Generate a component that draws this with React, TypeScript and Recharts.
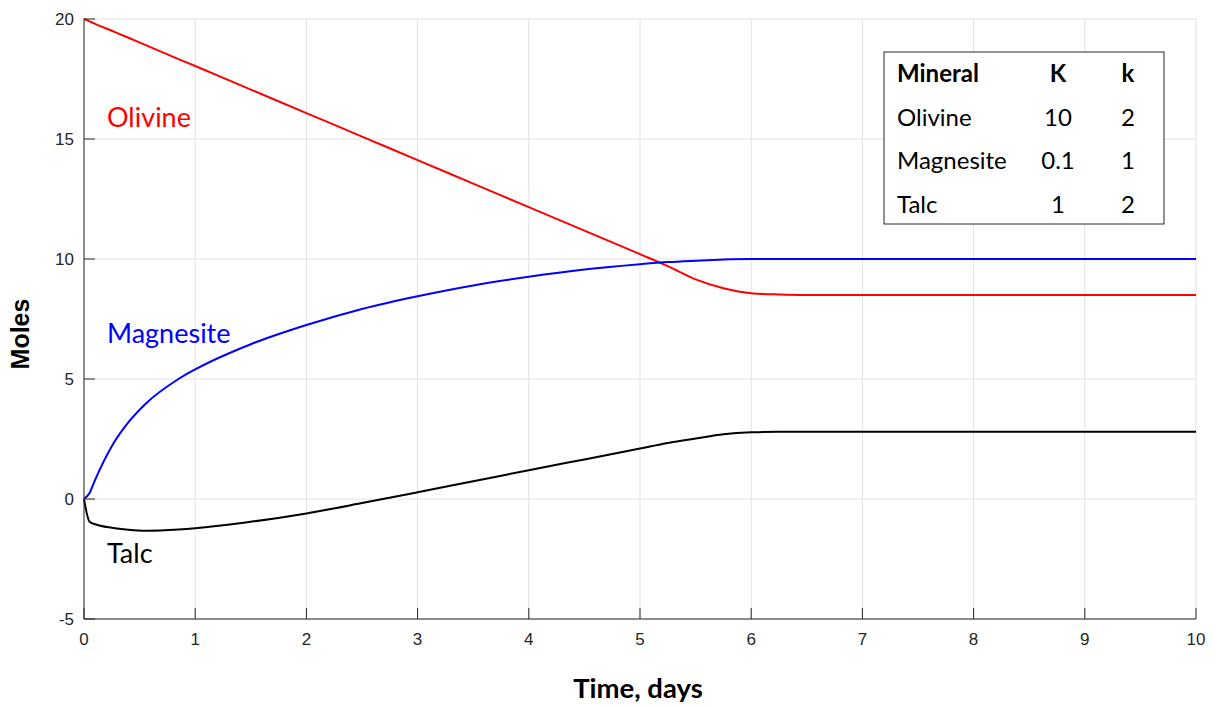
import { CartesianGrid, Line, LineChart, XAxis, YAxis } from "recharts";

const times = [
  0, 0.05, 0.1, 0.25, 0.4, 0.55, 0.85, 1, 1.5, 2, 2.5, 3, 3.5, 4, 4.5, 5,
  5.25, 5.5, 5.75, 6, 6.25, 6.5, 7, 8, 9, 10,
];
const olivine = [
  20, 19.9, 19.8, 19.51, 19.22, 18.92, 18.33, 18.04, 17.06, 16.08, 15.1,
  14.12, 13.14, 12.16, 11.18, 10.2, 9.7, 9.15, 8.78, 8.57, 8.52, 8.5, 8.5,
  8.5, 8.5, 8.5,
];
const magnesite = [
  0, 0.25, 0.8, 2.2, 3.2, 3.95, 5.0, 5.4, 6.45, 7.25, 7.92, 8.45, 8.9, 9.26,
  9.56, 9.78, 9.87, 9.93, 9.98, 10, 10, 10, 10, 10, 10, 10,
];
const talc = [
  0, -0.95, -1.05, -1.2, -1.28, -1.32, -1.27, -1.22, -0.95, -0.6, -0.17, 0.28,
  0.74, 1.2, 1.65, 2.1, 2.33, 2.52, 2.7, 2.78, 2.8, 2.8, 2.8, 2.8, 2.8, 2.8,
];

const xTicks = [0, 1, 2, 3, 4, 5, 6, 7, 8, 9, 10];
const yTicks = [-5, 0, 5, 10, 15, 20];

const tableHeader = ["Mineral", "K", "k"];
const tableRows = [
  ["Olivine", "10", "2"],
  ["Magnesite", "0.1", "1"],
  ["Talc", "1", "2"],
];

const data = times.map((t, i) => ({
  t,
  olivine: olivine[i],
  magnesite: magnesite[i],
  talc: talc[i],
}));

const AXIS = "#262626";
const TICK_FONT = "'Liberation Sans', Arial, sans-serif";
const LABEL_FONT = "Lato, 'Open Sans', sans-serif";

function BottomTick({ x, y, payload }: any) {
  return (
    <g>
      <line x1={x} y1={y} x2={x} y2={y - 11} stroke={AXIS} strokeWidth={1} />
      <text
        x={x}
        y={y + 26}
        textAnchor="middle"
        fontSize={17}
        fontFamily={TICK_FONT}
        fill={AXIS}
      >
        {payload.value}
      </text>
    </g>
  );
}

function TopTick({ x, y }: any) {
  return <line x1={x} y1={y} x2={x} y2={y + 11} stroke={AXIS} strokeWidth={1} />;
}

function LeftTick({ x, y, payload }: any) {
  return (
    <g>
      <line x1={x} y1={y} x2={x + 11} y2={y} stroke={AXIS} strokeWidth={1} />
      <text
        x={x - 10}
        y={y + 6}
        textAnchor="end"
        fontSize={17}
        fontFamily={TICK_FONT}
        fill={AXIS}
      >
        {payload.value}
      </text>
    </g>
  );
}

function RightTick({ x, y }: any) {
  return <line x1={x} y1={y} x2={x - 11} y2={y} stroke={AXIS} strokeWidth={1} />;
}

export default function App() {
  const colX = [897, 1058, 1128];
  const rowY = [82, 126, 169, 213];
  return (
    <div style={{ position: "absolute", left: 0, top: 0, width: 1215, height: 706, background: "#fff" }}>
      <LineChart
        width={1215}
        height={706}
        data={data}
        margin={{ top: 19, right: 19, left: 24, bottom: 57 }}
      >
        <CartesianGrid
          xAxisId="bottom"
          yAxisId="left"
          stroke="#e2e2e2"
          strokeWidth={1}
        />
        <XAxis
          xAxisId="bottom"
          dataKey="t"
          type="number"
          domain={[0, 10]}
          ticks={xTicks}
          tickSize={0}
          tickMargin={0}
          tickLine={false}
          axisLine={{ stroke: AXIS }}
          tick={<BottomTick />}
          height={30}
          interval={0}
        />
        <XAxis
          xAxisId="top"
          orientation="top"
          dataKey="t"
          type="number"
          domain={[0, 10]}
          ticks={xTicks}
          tickSize={0}
          tickMargin={0}
          tickLine={false}
          axisLine={{ stroke: AXIS }}
          tick={<TopTick />}
          height={0}
          interval={0}
        />
        <YAxis
          yAxisId="left"
          type="number"
          domain={[-5, 20]}
          ticks={yTicks}
          tickSize={0}
          tickMargin={0}
          tickLine={false}
          axisLine={{ stroke: AXIS }}
          tick={<LeftTick />}
          width={60}
          interval={0}
        />
        <YAxis
          yAxisId="right"
          orientation="right"
          type="number"
          domain={[-5, 20]}
          ticks={yTicks}
          tickSize={0}
          tickMargin={0}
          tickLine={false}
          axisLine={{ stroke: AXIS }}
          tick={<RightTick />}
          width={0}
          interval={0}
        />
        <Line
          xAxisId="bottom"
          yAxisId="left"
          dataKey="olivine"
          type="monotone"
          stroke="#ff0000"
          strokeWidth={2}
          dot={false}
          isAnimationActive={false}
        />
        <Line
          xAxisId="bottom"
          yAxisId="left"
          dataKey="magnesite"
          type="monotone"
          stroke="#0000ff"
          strokeWidth={2}
          dot={false}
          isAnimationActive={false}
        />
        <Line
          xAxisId="bottom"
          yAxisId="left"
          dataKey="talc"
          type="monotone"
          stroke="#000000"
          strokeWidth={2}
          dot={false}
          isAnimationActive={false}
        />
      </LineChart>
      <svg
        width={1215}
        height={706}
        style={{ position: "absolute", left: 0, top: 0, pointerEvents: "none" }}
      >
        <text x={107} y={127} fontSize={27} fontFamily={LABEL_FONT} fill="#ff0000">
          Olivine
        </text>
        <text x={107} y={343} fontSize={27} fontFamily={LABEL_FONT} fill="#0000ff">
          Magnesite
        </text>
        <text x={107} y={563} fontSize={27} fontFamily={LABEL_FONT} fill="#000">
          Talc
        </text>
        <text
          x={638}
          y={698}
          textAnchor="middle"
          fontSize={27.5}
          fontWeight="bold"
          fontFamily={LABEL_FONT}
          fill="#000"
        >
          Time, days
        </text>
        <text
          x={0}
          y={0}
          transform="translate(29,334) rotate(-90)"
          textAnchor="middle"
          fontSize={25}
          fontWeight="bold"
          fontFamily={TICK_FONT}
          fill="#000"
        >
          Moles
        </text>
        <rect x={884} y={52} width={280} height={172} fill="#fff" stroke={AXIS} strokeWidth={1} />
        {tableHeader.map((h, i) => (
          <text
            key={h}
            x={colX[i]}
            y={rowY[0]}
            textAnchor={i === 0 ? "start" : "middle"}
            fontSize={24}
            fontWeight="bold"
            fontFamily={LABEL_FONT}
            fill="#000"
          >
            {h}
          </text>
        ))}
        {tableRows.map((row, r) =>
          row.map((cell, i) => (
            <text
              key={`${r}-${i}`}
              x={colX[i]}
              y={rowY[r + 1]}
              textAnchor={i === 0 ? "start" : "middle"}
              fontSize={24}
              fontFamily={LABEL_FONT}
              fill="#000"
            >
              {cell}
            </text>
          )),
        )}
      </svg>
    </div>
  );
}
